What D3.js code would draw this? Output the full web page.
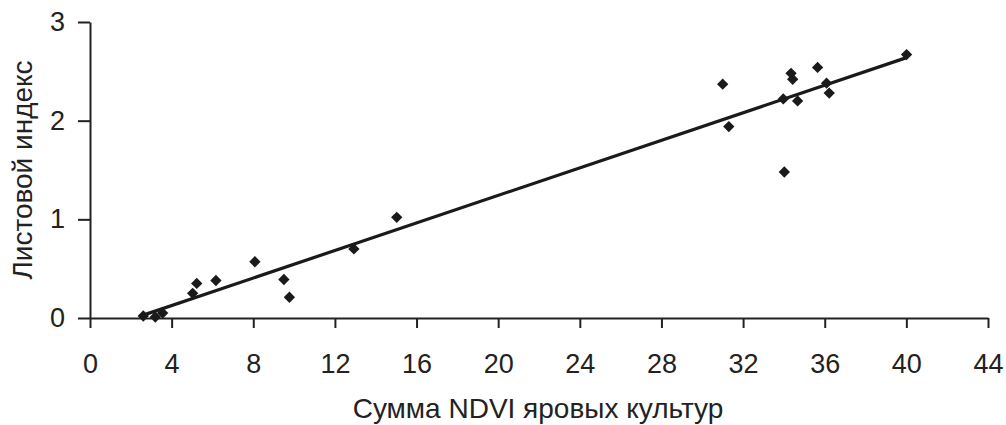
<!DOCTYPE html>
<html>
<head>
<meta charset="utf-8">
<script src="https://cdn.jsdelivr.net/npm/d3@7"></script>
<style>
  body { margin: 0; background: #fff; }
  svg { display: block; font-family: "Liberation Sans", Arial, sans-serif; }
  .axis path, .axis line { stroke: #222; stroke-width: 2px; }
  .axis text { fill: #222; font-size: 27px; }
  .title { fill: #222; font-size: 28px; }
</style>
</head>
<body>
<svg id="chart" width="1006" height="425"></svg>
<script>
// sum of NDVI (spring crops) vs leaf index
var ndviSum = [2.61, 3.2, 3.56, 5.03, 5.23, 6.17, 8.08, 9.5, 9.77, 12.93, 15.03,
               31.0, 31.3, 34.02, 33.97, 34.35, 34.43, 34.67, 35.65, 36.09, 36.22, 40.01];
var leafIndex = [0.02, 0.01, 0.05, 0.25, 0.35, 0.38, 0.57, 0.39, 0.21, 0.70, 1.02,
                 2.37, 1.94, 1.48, 2.22, 2.48, 2.42, 2.20, 2.54, 2.38, 2.28, 2.67];
var xTicks = [0, 4, 8, 12, 16, 20, 24, 28, 32, 36, 40, 44];
var yTicks = [0, 1, 2, 3];

var margin = {top: 22, right: 18, bottom: 107, left: 90};
var width = 1006 - margin.left - margin.right;
var height = 425 - margin.top - margin.bottom;

var svg = d3.select('#chart');
var g = svg.append('g')
    .attr('transform', 'translate(' + margin.left + ',' + margin.top + ')');

var x = d3.scaleLinear().domain([0, 44]).range([0, width]);
var y = d3.scaleLinear().domain([0, 3]).range([height, 0]);

// axes
g.append('g')
    .attr('class', 'axis')
    .attr('transform', 'translate(0,' + height + ')')
    .call(d3.axisBottom(x).tickValues(xTicks).tickFormat(d3.format('d'))
        .tickSizeInner(10).tickSizeOuter(0).tickPadding(26));

g.append('g')
    .attr('class', 'axis')
    .call(d3.axisLeft(y).tickValues(yTicks).tickFormat(d3.format('d'))
        .tickSizeInner(12).tickSizeOuter(0).tickPadding(13));

// linear trend line (least squares)
var data = ndviSum.map(function (v, i) { return [v, leafIndex[i]]; });
var mx = d3.mean(ndviSum), my = d3.mean(leafIndex);
var slope = d3.sum(data, function (d) { return (d[0] - mx) * (d[1] - my); }) /
            d3.sum(data, function (d) { return (d[0] - mx) * (d[0] - mx); });
var intercept = my - slope * mx;
var ext = d3.extent(ndviSum);

g.append('line')
    .attr('x1', x(ext[0])).attr('y1', y(slope * ext[0] + intercept))
    .attr('x2', x(ext[1])).attr('y2', y(slope * ext[1] + intercept))
    .attr('stroke', '#1a1a1a')
    .attr('stroke-width', 3.2);

// diamond markers
var diamond = d3.symbol().type(d3.symbolSquare).size(64);
g.selectAll('.pt')
    .data(data)
    .enter()
    .append('path')
    .attr('class', 'pt')
    .attr('d', diamond)
    .attr('fill', '#1a1a1a')
    .attr('transform', function (d) {
        return 'translate(' + x(d[0]) + ',' + y(d[1]) + ') rotate(45)';
    });

// titles
svg.append('text')
    .attr('class', 'title')
    .attr('x', 538)
    .attr('y', 418)
    .attr('text-anchor', 'middle')
    .text('Сумма NDVI яровых культур');

svg.append('text')
    .attr('class', 'title')
    .attr('transform', 'translate(32,170) rotate(-90)')
    .attr('text-anchor', 'middle')
    .text('Листовой индекс');
</script>
</body>
</html>
